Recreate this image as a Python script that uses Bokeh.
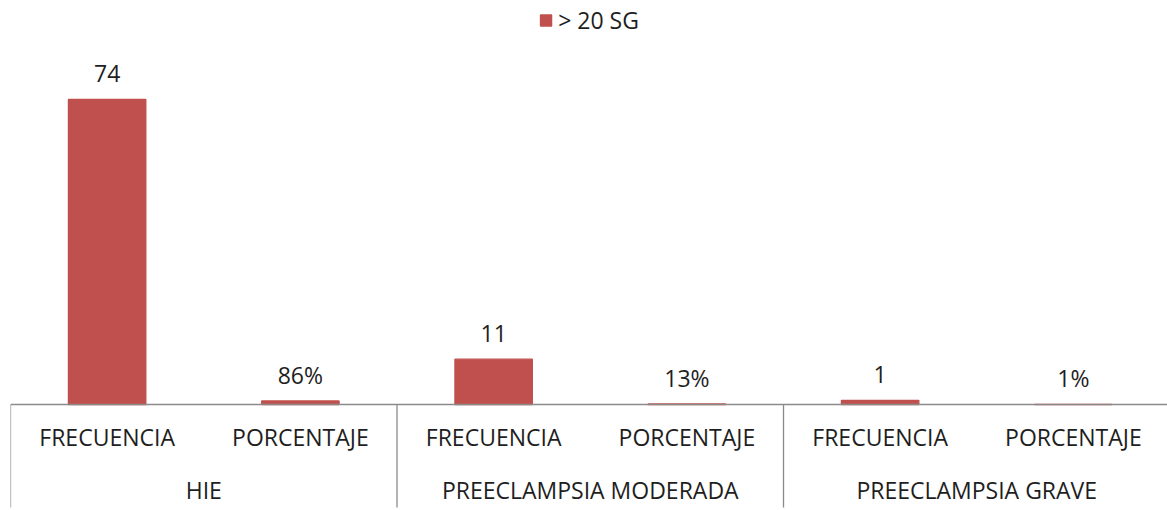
from bokeh.plotting import figure
from bokeh.models import Range1d, Span, Legend, LegendItem, ColumnDataSource
from bokeh.core.properties import value
from bokeh.embed import file_html
from bokeh.resources import INLINE

# ---- data ----
groups = ["HIE", "PREECLAMPSIA MODERADA", "PREECLAMPSIA GRAVE"]
subcats = ["FRECUENCIA", "PORCENTAJE"]
frecuencia = [74, 11, 1]
porcentaje = [0.86, 0.13, 0.01]
series_name = "> 20 SG"

BAR = "#C0504D"
GRID = "#8A8A8A"
TXT = "#1E1E1E"
FONT_NAME = "Open Sans"
FONT = value(FONT_NAME)
FS = "23px"

n_sub = len(subcats)
xs, tops, labels, subs = [], [], [], []
for gi, g in enumerate(groups):
    for si, s in enumerate(subcats):
        xs.append(gi * n_sub + si + 0.5)
        v = frecuencia[gi] if si == 0 else porcentaje[gi]
        tops.append(v)
        labels.append(str(v) if si == 0 else f"{round(v * 100)}%")
        subs.append(s)

gx = [gi * n_sub + n_sub / 2 for gi in range(len(groups))]
sep_x = [gi * n_sub for gi in range(len(groups))]

src = ColumnDataSource(dict(x=xs, top=tops, label=labels, sub=subs, zero=[0] * len(xs)))

W, H = 1167, 510
p = figure(width=W, height=H, output_backend="svg", toolbar_location=None,
           x_axis_type=None, y_axis_type=None,
           x_range=Range1d(0, 5.987), y_range=Range1d(-25.72, 98.02),
           min_border_left=10, min_border_right=0, min_border_top=0, min_border_bottom=0)
p.outline_line_color = None
p.xgrid.visible = False
p.ygrid.visible = False

bars = p.vbar(x="x", top="top", bottom=0, width=0.4, source=src,
              fill_color=BAR, line_color=BAR, line_width=1.4)

p.add_layout(Span(location=0, dimension="width", line_color=GRID, line_width=1.3))
p.segment(x0=sep_x, x1=sep_x, y0=[0] * len(sep_x), y1=[-25] * len(sep_x),
          line_color=GRID, line_width=1.3)

# value labels
p.text(x="x", y="top", text="label", source=src, text_font=FONT, text_font_size=FS,
       text_color=TXT, text_align="center", text_baseline="alphabetic", y_offset=-26)
# sub-category labels
p.text(x="x", y="zero", text="sub", source=src, text_font=FONT, text_font_size=FS,
       text_color=TXT, text_align="center", text_baseline="alphabetic", y_offset=33)
# group labels
p.text(x=gx, y=[0] * len(gx), text=groups, text_font=FONT, text_font_size=FS,
       text_color=TXT, text_align="center", text_baseline="alphabetic", y_offset=86)

legend = Legend(items=[LegendItem(label=series_name, renderers=[bars])],
                location="top_center", orientation="horizontal",
                label_text_font=FONT_NAME, label_text_font_size=FS, label_text_color=TXT,
                glyph_width=14, glyph_height=14, label_standoff=6,
                padding=0, margin=4, border_line_color=None,
                background_fill_alpha=0)
p.add_layout(legend)

open("out.html", "w").write(file_html(p, INLINE))
